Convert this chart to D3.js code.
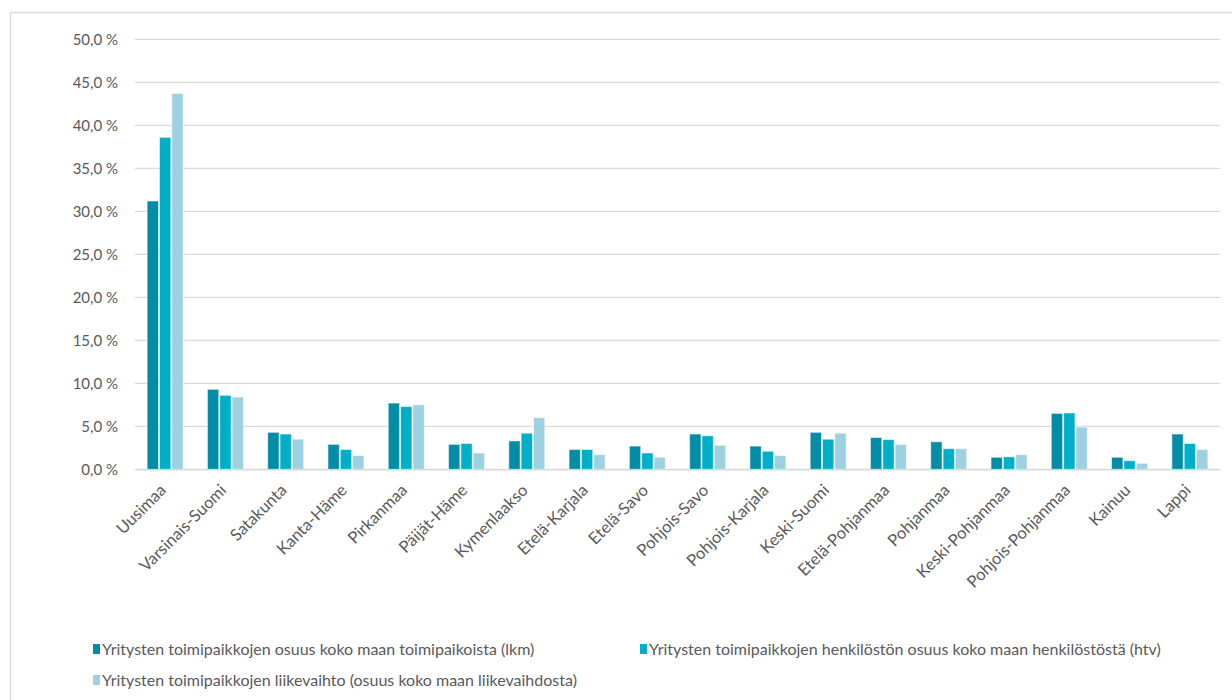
<!DOCTYPE html>
<html><head><meta charset="utf-8">
<script src="https://cdn.jsdelivr.net/npm/d3@7"></script>
<style>body{margin:0;background:#fff}svg{display:block}</style>
</head><body>
<svg id="c" width="1232" height="700"></svg>
<script>
const categories = ["Uusimaa","Varsinais-Suomi","Satakunta","Kanta-Häme","Pirkanmaa","Päijät-Häme","Kymenlaakso","Etelä-Karjala","Etelä-Savo","Pohjois-Savo","Pohjois-Karjala","Keski-Suomi","Etelä-Pohjanmaa","Pohjanmaa","Keski-Pohjanmaa","Pohjois-Pohjanmaa","Kainuu","Lappi"];
const seriesNames = ["Yritysten toimipaikkojen osuus koko maan toimipaikoista (lkm)","Yritysten toimipaikkojen henkilöstön osuus koko maan henkilöstöstä (htv)","Yritysten toimipaikkojen liikevaihto (osuus koko maan liikevaihdosta)"];
const toimipaikat = [31.2,9.3,4.3,2.9,7.7,2.9,3.3,2.3,2.7,4.1,2.7,4.3,3.7,3.2,1.4,6.5,1.4,4.1];
const henkilosto = [38.6,8.6,4.1,2.3,7.3,3.0,4.2,2.3,1.9,3.9,2.1,3.5,3.45,2.4,1.45,6.55,1.0,3.0];
const liikevaihto = [43.7,8.4,3.5,1.6,7.5,1.9,6.0,1.7,1.4,2.8,1.6,4.2,2.9,2.4,1.7,4.9,0.7,2.3];
const yTicks = [0,5,10,15,20,25,30,35,40,45,50];
const colors = ["#028ca5","#00aec7","#9dd0e0"];

const series = [toimipaikat, henkilosto, liikevaihto];
const svg = d3.select("#c");
const font = "Lato, sans-serif";
const txt = "#595959";

svg.append("line").attr("x1",10.5).attr("x2",1232).attr("y1",12.5).attr("y2",12.5).attr("stroke","#d9d9d9").attr("stroke-width",1.5);
svg.append("line").attr("x1",10.5).attr("x2",10.5).attr("y1",12.5).attr("y2",700).attr("stroke","#d9d9d9").attr("stroke-width",1.5);

const x0 = d3.scaleBand().domain(categories).range([135,1220]).paddingInner(0.386).paddingOuter(0.193);
const x1 = d3.scaleBand().domain([0,1,2]).range([0,x0.bandwidth()]).padding(0);
const y = d3.scaleLinear().domain([0,50]).range([469.3,39.3]);

const fmt = v => d3.format(".1f")(v).replace(".",",") + " %";

svg.append("g").selectAll("line").data(yTicks).join("line")
  .attr("x1",135).attr("x2",1220).attr("y1",d=>y(d)).attr("y2",d=>y(d))
  .attr("stroke","#d9d9d9").attr("stroke-width",1.3);

const yAxis = d3.axisLeft(y).tickValues(yTicks).tickFormat(fmt).tickSize(0).tickPadding(0);
const gy = svg.append("g").attr("transform","translate(118,0)").call(yAxis);
gy.select(".domain").remove();
gy.selectAll("text").attr("font-family",font).attr("font-size",15).attr("fill",txt);

const groups = svg.append("g").selectAll("g").data(categories).join("g")
  .attr("transform",d=>`translate(${x0(d)},0)`);
groups.selectAll("rect").data((d,i)=>series.map((s,k)=>({k,v:s[i]}))).join("rect")
  .attr("x",d=>x1(d.k)+0.5).attr("width",x1.bandwidth()-1)
  .attr("y",d=>y(d.v)).attr("height",d=>y(0)-y(d.v))
  .attr("fill",d=>colors[d.k]).attr("stroke","#ffffff").attr("stroke-opacity",0.55).attr("stroke-width",1);

const xAxis = d3.axisBottom(x0).tickSize(0).tickPadding(0);
const gx = svg.append("g").attr("transform",`translate(0,${y(0)})`).call(xAxis);
gx.select(".domain").attr("stroke","#d9d9d9").attr("stroke-width",1.3);
gx.selectAll("text").attr("font-family",font).attr("font-size",16.5).attr("fill",txt)
  .attr("text-anchor","end").attr("dy",null)
  .attr("transform","translate(2,22) rotate(-45)");

const leg = [{x:93,y:649},{x:640,y:649},{x:93,y:680}];
const lg = svg.append("g").selectAll("g").data(seriesNames).join("g")
  .attr("transform",(d,i)=>`translate(${leg[i].x},${leg[i].y})`);
lg.append("rect").attr("x",0).attr("y",-5).attr("width",7).attr("height",10).attr("fill",(d,i)=>colors[i]);
lg.append("text").attr("x",9).attr("y",0).attr("dy","0.35em").text(d=>d)
  .attr("font-family",font).attr("font-size",16).attr("fill",txt);
</script>
</body></html>
